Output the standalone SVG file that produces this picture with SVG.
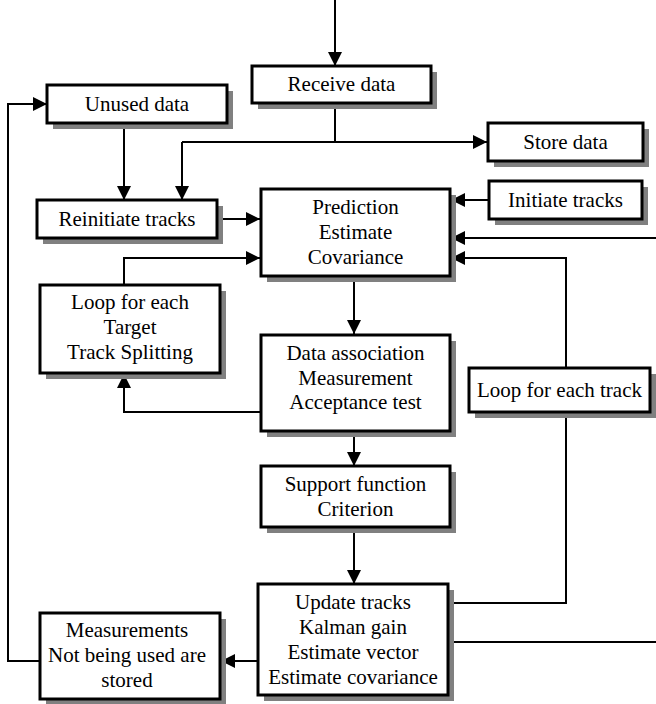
<svg xmlns="http://www.w3.org/2000/svg" width="656" height="704" viewBox="0 0 656 704">
<defs>
<marker id="ah" markerUnits="userSpaceOnUse" markerWidth="15" markerHeight="15" refX="14" refY="7" orient="auto">
<path d="M0,0 L14,7 L0,14 z" fill="#000"/>
</marker>
<style>
.bx{fill:#fff;stroke:#000;stroke-width:3}
.t{font-family:"Liberation Serif","Times New Roman",serif;font-size:21px;fill:#000;text-anchor:middle}
.c{fill:none;stroke:#000;stroke-width:2}
.a{fill:none;stroke:#000;stroke-width:2;marker-end:url(#ah)}
</style>
</defs>
<rect width="656" height="704" fill="#fff"/>
<g id="connectors">
<path class="a" d="M335,0 V66"/>
<path class="c" d="M335,103 V142"/>
<path class="a" d="M182,142 H487"/>
<path class="a" d="M182,142 V200"/>
<path class="a" d="M124,123 V200"/>
<path class="a" d="M217,219 H260"/>
<path class="a" d="M489,200 H451"/>
<path class="a" d="M656,238 H451"/>
<path class="a" d="M124,285 V258 H260"/>
<path class="a" d="M354,276 V334"/>
<path class="a" d="M261,412 H124 V374"/>
<path class="a" d="M566,368 V258 H451"/>
<path class="c" d="M566,412 V603 H448"/>
<path class="a" d="M354,431 V466"/>
<path class="a" d="M354,527 V584"/>
<path class="c" d="M448,642 H656"/>
<path class="a" d="M258,661 H221"/>
<path class="a" d="M40,661 H8 V104 H47"/>
</g>
<g id="receive">
<rect fill="#808080" x="258" y="72" width="179" height="37"/>
<rect class="bx" x="252" y="66" width="179" height="37"/>
<text class="t" x="341.5" y="91">Receive data</text>
</g>
<g id="unused">
<rect fill="#808080" x="53" y="91" width="180" height="38"/>
<rect class="bx" x="47" y="85" width="180" height="38"/>
<text class="t" x="137" y="111">Unused data</text>
</g>
<g id="store">
<rect fill="#808080" x="494" y="129" width="155" height="38"/>
<rect class="bx" x="488" y="123" width="155" height="38"/>
<text class="t" x="565.5" y="149">Store data</text>
</g>
<g id="reinitiate">
<rect fill="#808080" x="43" y="206" width="180" height="38"/>
<rect class="bx" x="37" y="200" width="180" height="38"/>
<text class="t" x="127" y="226">Reinitiate tracks</text>
</g>
<g id="initiate">
<rect fill="#808080" x="495" y="187" width="153" height="38"/>
<rect class="bx" x="489" y="181" width="153" height="38"/>
<text class="t" x="565.5" y="207">Initiate tracks</text>
</g>
<g id="prediction">
<rect fill="#808080" x="267" y="195" width="189" height="87"/>
<rect class="bx" x="261" y="189" width="189" height="87"/>
<text class="t" x="355.5" y="214">Prediction</text>
<text class="t" x="355.5" y="239">Estimate</text>
<text class="t" x="355.5" y="264">Covariance</text>
</g>
<g id="looptarget">
<rect fill="#808080" x="46" y="291" width="180" height="88"/>
<rect class="bx" x="40" y="285" width="180" height="88"/>
<text class="t" x="130" y="309">Loop for each</text>
<text class="t" x="130" y="334">Target</text>
<text class="t" x="130" y="359">Track Splitting</text>
</g>
<g id="association">
<rect fill="#808080" x="267" y="341" width="189" height="96"/>
<rect class="bx" x="261" y="335" width="189" height="96"/>
<text class="t" x="355.5" y="360">Data association</text>
<text class="t" x="355.5" y="385">Measurement</text>
<text class="t" x="355.5" y="409">Acceptance test</text>
</g>
<g id="looptrack">
<rect fill="#808080" x="475" y="374" width="181" height="44"/>
<rect class="bx" x="469" y="368" width="181" height="44"/>
<text class="t" x="559.5" y="397">Loop for each track</text>
</g>
<g id="support">
<rect fill="#808080" x="267" y="472" width="189" height="61"/>
<rect class="bx" x="261" y="466" width="189" height="61"/>
<text class="t" x="355.5" y="491">Support function</text>
<text class="t" x="355.5" y="516">Criterion</text>
</g>
<g id="update">
<rect fill="#808080" x="264" y="590" width="190" height="111"/>
<rect class="bx" x="258" y="584" width="190" height="111"/>
<text class="t" x="353" y="609">Update tracks</text>
<text class="t" x="353" y="634">Kalman gain</text>
<text class="t" x="353" y="659">Estimate vector</text>
<text class="t" x="353" y="684">Estimate covariance</text>
</g>
<g id="measurements">
<rect fill="#808080" x="46" y="619" width="180" height="86"/>
<rect class="bx" x="40" y="613" width="180" height="86"/>
<text class="t" x="127" y="637">Measurements</text>
<text class="t" x="127" y="662">Not being used are</text>
<text class="t" x="127" y="687">stored</text>
</g>
</svg>
